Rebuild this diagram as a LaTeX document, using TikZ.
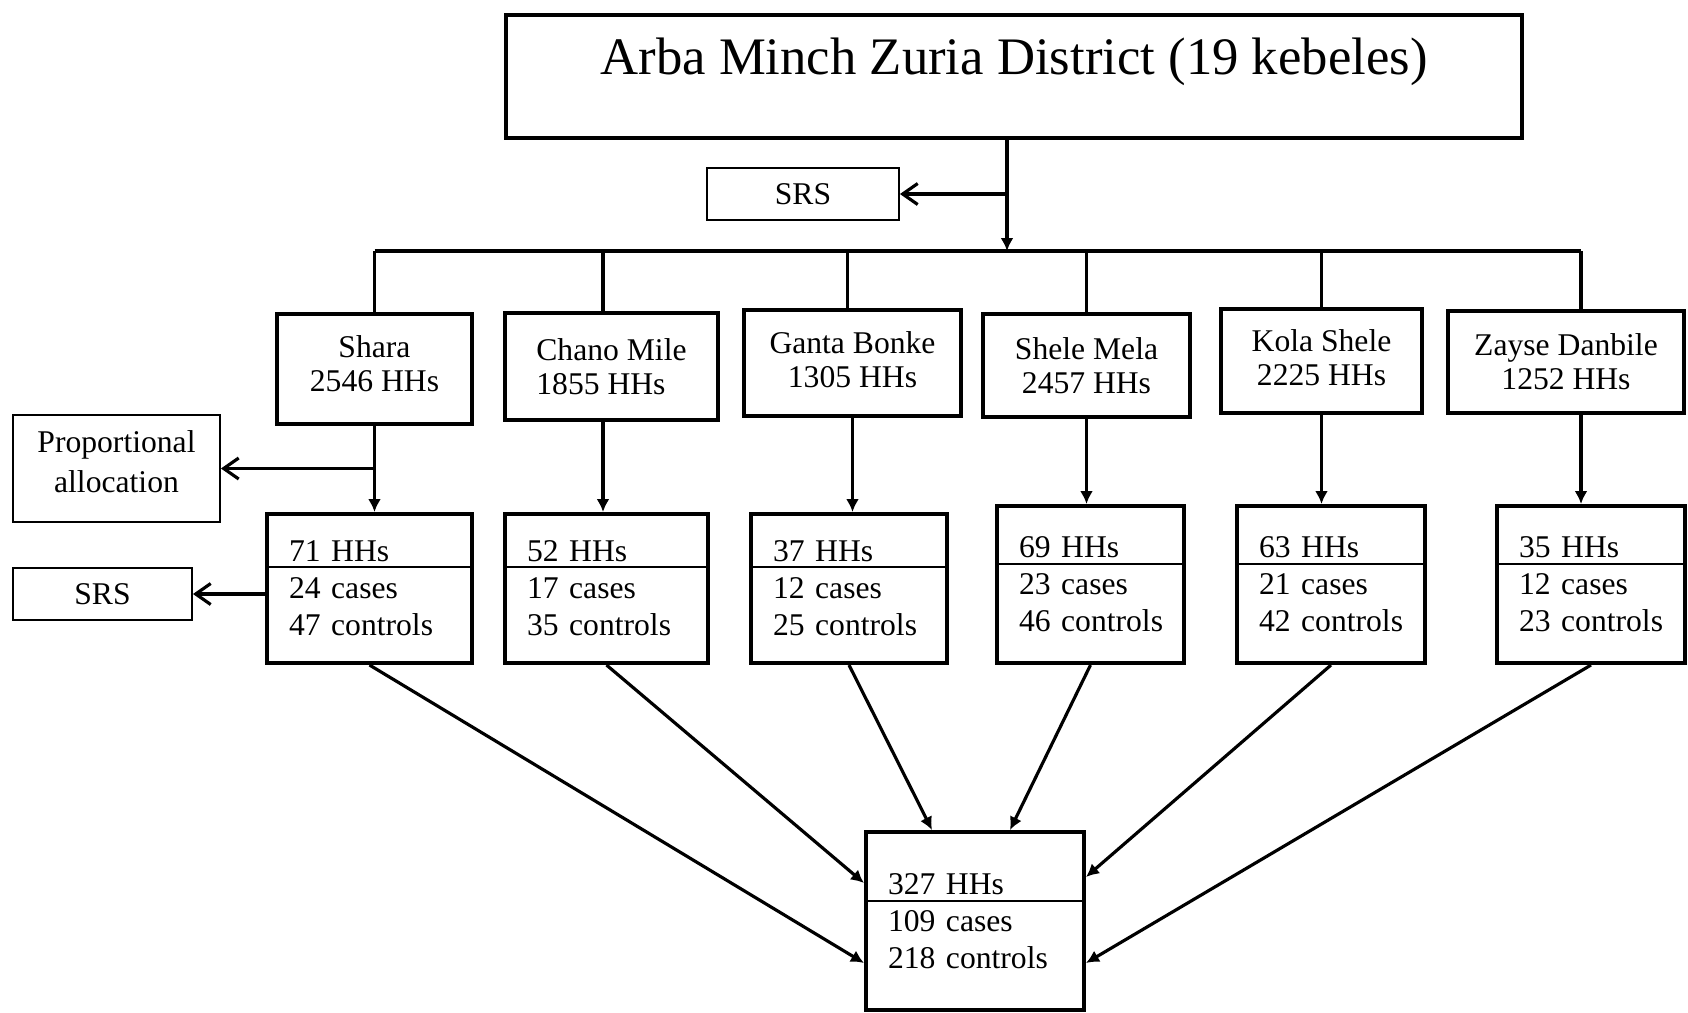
\documentclass[tikz,border=0pt]{standalone}
\usepackage{fontspec}
\setmainfont{Liberation Serif}
\usetikzlibrary{arrows.meta}

\begin{document}
\begin{tikzpicture}[x=0.02cm, y=-0.02cm,
		box/.style={draw, rectangle, line width=2.3pt, inner sep=0pt, align=center, font=\fontsize{18}{19.5}\selectfont},
		thinbox/.style={box, line width=1.1pt},
		cellbox/.style={box, align=left, inner xsep=0.44cm, font=\fontsize{18}{21}\selectfont},
		conn/.style={line width=1.8pt},
		arr/.style={conn, -{Latex[length=0.26cm, width=0.26cm]}},
		barb/.style={conn, -{Straight Barb[length=0.3cm, width=0.42cm]}},
		divider/.style={line width=1.3pt}]
			%%%%% START %%%%%
			\useasboundingbox (0, 0) rectangle (1688, 1012);
			
			\node[box, minimum width=20.32cm, minimum height=2.46cm] (dist) at (1014, 76.5) {};
			\node[font=\fontsize{30}{36}\selectfont] (distname) at (1014, 62) {Arba Minch Zuria District (19 kebeles)};
			
			\node[thinbox, minimum width=3.84cm, minimum height=1.04cm] (srsTop) at (803, 194) {SRS};
			\coordinate (bus) at (1007, 251);
			\draw[arr] (dist.south -| bus) -- (bus);
			\draw[barb] (srsTop -| bus) -- (srsTop.east);
			
			%% kebeles
			\node[box, minimum width=3.9cm, minimum height=2.2cm] (shara) at (374.5, 369) {Shara\\2546 HHs\rule[-6pt]{0pt}{1pt}};
			\node[box, align=left, minimum width=4.26cm, minimum height=2.14cm] (chano) at (611.5, 366.5) {Chano Mile\\1855 HHs};
			\node[box, minimum width=4.34cm, minimum height=2.12cm] (ganta) at (852.5, 363) {Ganta Bonke\\1305 HHs\rule[-4pt]{0pt}{1pt}};
			\node[box, minimum width=4.14cm, minimum height=2.06cm] (shele) at (1086.5, 365.5) {Shele Mela\\2457 HHs};
			\node[box, minimum width=4.02cm, minimum height=2.08cm] (kola) at (1321.5, 361) {Kola Shele\\2225 HHs\rule[-4pt]{0pt}{1pt}};
			\node[box, minimum width=4.72cm, minimum height=2.04cm] (zayse) at (1566, 362) {Zayse Danbile\\1252 HHs};
			
			\draw[conn] (shara.north |- bus) -- ([xshift=0.3cm]zayse.north |- bus);
			\draw[conn] (shara.north) -- (shara.north |- bus);
			\draw[conn] ([xshift=-0.17cm]chano.north) -- ([xshift=-0.17cm]chano.north |- bus);
			\draw[conn] ([xshift=-0.1cm]ganta.north) -- ([xshift=-0.1cm]ganta.north |- bus);
			\draw[conn] (shele.north) -- (shele.north |- bus);
			\draw[conn] (kola.north) -- (kola.north |- bus);
			\draw[conn] ([xshift=0.3cm]zayse.north) -- ([xshift=0.3cm]zayse.north |- bus);
			
			%% samples
			\coordinate (cutA) at (0, 567);
			\coordinate (cutB) at (0, 564);
			\coordinate (cutC) at (0, 901);
			
			\node[cellbox, minimum width=4.1cm, minimum height=2.98cm, text width=3.22cm] (sharaSmp) at (369.5, 588.5) {\mbox{71 HHs}\\\mbox{24 cases}\\\mbox{47 controls}};
			\node[cellbox, minimum width=4.06cm, minimum height=2.98cm, text width=3.18cm] (chanoSmp) at (606.5, 588.5) {\mbox{52 HHs}\\\mbox{17 cases}\\\mbox{35 controls}};
			\node[cellbox, minimum width=3.92cm, minimum height=2.98cm, text width=3.04cm] (gantaSmp) at (849, 588.5) {\mbox{37 HHs}\\\mbox{12 cases}\\\mbox{25 controls}};
			\node[cellbox, minimum width=3.74cm, minimum height=3.14cm, text width=2.86cm] (sheleSmp) at (1090.5, 584.5) {\mbox{69 HHs}\\\mbox{23 cases}\\\mbox{46 controls}};
			\node[cellbox, minimum width=3.76cm, minimum height=3.14cm, text width=2.88cm] (kolaSmp) at (1331, 584.5) {\mbox{63 HHs}\\\mbox{21 cases}\\\mbox{42 controls}};
			\node[cellbox, minimum width=3.76cm, minimum height=3.14cm, text width=2.88cm] (zayseSmp) at (1591, 584.5) {\mbox{35 HHs}\\\mbox{12 cases}\\\mbox{23 controls}};
			
			\draw[divider] (sharaSmp.west |- cutA) -- (sharaSmp.east |- cutA);
			\draw[divider] (chanoSmp.west |- cutA) -- (chanoSmp.east |- cutA);
			\draw[divider] (gantaSmp.west |- cutA) -- (gantaSmp.east |- cutA);
			\draw[divider] (sheleSmp.west |- cutB) -- (sheleSmp.east |- cutB);
			\draw[divider] (kolaSmp.west |- cutB) -- (kolaSmp.east |- cutB);
			\draw[divider] (zayseSmp.west |- cutB) -- (zayseSmp.east |- cutB);
			
			\draw[arr] (shara.south) -- (shara.south |- sharaSmp.north);
			\draw[arr] ([xshift=-0.17cm]chano.south) -- ([xshift=-0.17cm]chano.south |- chanoSmp.north);
			\draw[arr] (ganta.south) -- (ganta.south |- gantaSmp.north);
			\draw[arr] (shele.south) -- (shele.south |- sheleSmp.north);
			\draw[arr] (kola.south) -- (kola.south |- kolaSmp.north);
			\draw[arr] ([xshift=0.3cm]zayse.south) -- ([xshift=0.3cm]zayse.south |- zayseSmp.north);
			
			%% side boxes
			\node[thinbox, font=\fontsize{18}{22.5}\selectfont, minimum width=4.14cm, minimum height=2.14cm] (propAlloc) at (116.5, 468.5) {Proportional\\allocation\rule[-8pt]{0pt}{1pt}};
			\node[thinbox, minimum width=3.58cm, minimum height=1.04cm] (srsLeft) at (102.5, 594) {SRS};
			\draw[barb] (shara.south |- propAlloc) -- (propAlloc.east);
			\draw[barb] (sharaSmp.west |- srsLeft) -- (srsLeft.east);
			
			%% total
			\node[cellbox, minimum width=4.36cm, minimum height=3.56cm, text width=3.48cm] (total) at (975, 921) {\mbox{327 HHs}\\\mbox{109 cases}\\\mbox{218 controls}};
			\draw[divider] (total.west |- cutC) -- (total.east |- cutC);
			
			\draw[arr] (sharaSmp.south) -- ([yshift=-0.84cm]total.west);
			\draw[arr] (chanoSmp.south) -- ([yshift=0.76cm]total.west);
			\draw[arr] (gantaSmp.south) -- ([xshift=-0.86cm]total.north);
			\draw[arr] (sheleSmp.south) -- ([xshift=0.7cm]total.north);
			\draw[arr] (kolaSmp.south) -- ([yshift=0.88cm]total.east);
			\draw[arr] (zayseSmp.south) -- ([yshift=-0.84cm]total.east);
			
			%%%%% END %%%%%
\end{tikzpicture}
\end{document}
